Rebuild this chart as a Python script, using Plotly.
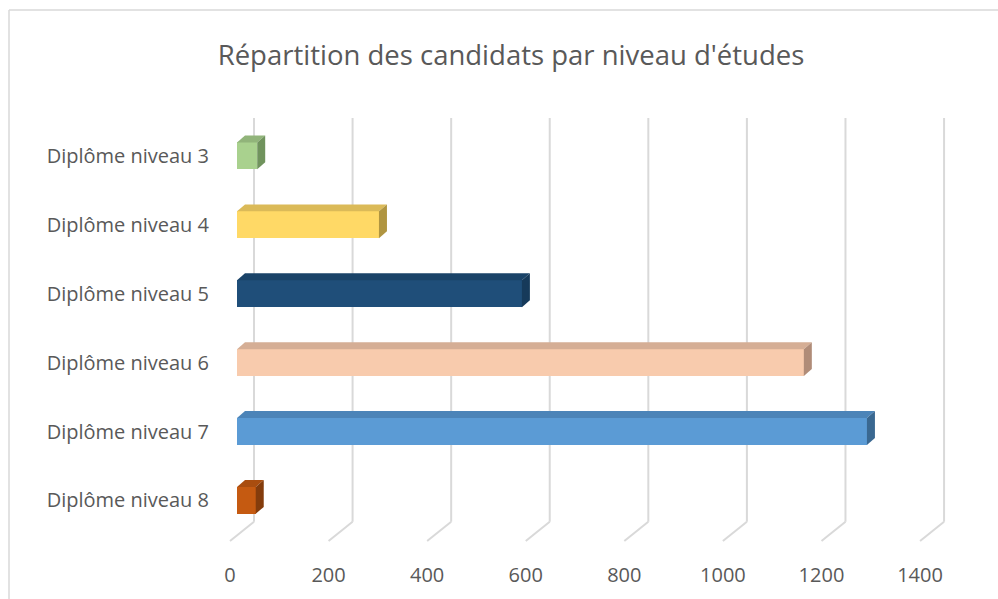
import plotly.graph_objects as go

categories = ["Diplôme niveau 8", "Diplôme niveau 7", "Diplôme niveau 6",
              "Diplôme niveau 5", "Diplôme niveau 4", "Diplôme niveau 3"]
values = [38, 1278, 1150, 578, 288, 41]
front_colors = ["#C55A11", "#5B9BD5", "#F8CBAD", "#1F4E79", "#FFD966", "#A9D18E"]
top_colors = ["#A94D0F", "#4C84B8", "#D5AE95", "#1A4368", "#DBBA58", "#91B47A"]
side_colors = ["#843C0C", "#3A6891", "#B08C78", "#163A5A", "#B09540", "#70935D"]
tick_vals = [0, 200, 400, 600, 800, 1000, 1200, 1400]

GRAY = "#595959"
FONT = "Open Sans"
W, H = 998, 599

# geometry of the pseudo-3D look (in axis units)
px_per_unit = 0.4929
x_left_px, x_right_px = 210, 960
xmin = -(237 - x_left_px) / px_per_unit
xmax = xmin + (x_right_px - x_left_px) / px_per_unit
front_shift = 7 / px_per_unit     # tick labels sit on the front edge
back_shift = 17 / px_per_unit     # gridlines sit on the back wall
depth_x = 8 / px_per_unit
depth_y = 7 / 69
bar_h = 0.39
floor_back = -0.31
floor_front = -0.59

fig = go.Figure()
fig.add_trace(go.Bar(
    y=list(range(len(categories))), x=values, orientation="h",
    width=bar_h, marker=dict(color=front_colors, line=dict(width=0)),
    hoverinfo="skip", showlegend=False))
# invisible trace to carry the front tick-label axis
fig.add_trace(go.Scatter(x=tick_vals, y=[0] * len(tick_vals), xaxis="x2",
                         mode="markers", marker=dict(opacity=0),
                         hoverinfo="skip", showlegend=False))

shapes = []
for t in tick_vals:
    xb = t + back_shift
    xf = t - front_shift
    shapes.append(dict(type="line", xref="x", yref="y", x0=xb, x1=xb,
                       y0=floor_back, y1=5.55, layer="below",
                       line=dict(color="#D9D9D9", width=2)))
    shapes.append(dict(type="line", xref="x", yref="y", x0=xb, x1=xf,
                       y0=floor_back, y1=floor_front, layer="below",
                       line=dict(color="#D9D9D9", width=2)))

for i, v in enumerate(values):
    yt = i + bar_h / 2
    yb = i - bar_h / 2
    top = f"M 0 {yt} L {v} {yt} L {v + depth_x} {yt + depth_y} L {depth_x} {yt + depth_y} Z"
    side = f"M {v} {yb} L {v} {yt} L {v + depth_x} {yt + depth_y} L {v + depth_x} {yb + depth_y} Z"
    shapes.append(dict(type="path", xref="x", yref="y", path=top,
                       fillcolor=top_colors[i], line=dict(width=0), layer="above"))
    shapes.append(dict(type="path", xref="x", yref="y", path=side,
                       fillcolor=side_colors[i], line=dict(width=0), layer="above"))

# chart border (left and top edges)
bx = (9 - 210) / 750
by = (559 - 10) / 441
shapes.append(dict(type="line", xref="paper", yref="paper",
                   x0=bx, x1=bx, y0=by, y1=(559 - 620) / 441,
                   line=dict(color="#D9D9D9", width=1.5)))
shapes.append(dict(type="line", xref="paper", yref="paper",
                   x0=bx, x1=(1020 - 210) / 750, y0=by, y1=by,
                   line=dict(color="#D9D9D9", width=1.5)))

fig.update_layout(
    width=W, height=H,
    margin=dict(l=210, r=W - 960, t=118, b=H - 559, autoexpand=False),
    paper_bgcolor="white", plot_bgcolor="white",
    title=dict(text="Répartition des candidats par niveau d'études",
               x=511 / W, xanchor="center", y=1 - 55 / H,
               yanchor="middle",
               font=dict(family=FONT, size=27.5, color=GRAY)),
    xaxis=dict(range=[xmin, xmax], showgrid=False, zeroline=False,
               showticklabels=False, showline=False, automargin=False),
    xaxis2=dict(range=[xmin + front_shift, xmax + front_shift], overlaying="x",
                side="bottom", anchor="y", showgrid=False, zeroline=False,
                showline=False, tickvals=tick_vals, ticks="",
                ticklabelstandoff=2, automargin=False,
                tickfont=dict(family=FONT, size=20, color=GRAY)),
    yaxis=dict(range=[-0.85, 5.55], tickvals=list(range(len(categories))),
               ticktext=categories, showgrid=False, zeroline=False,
               showline=False, ticks="", automargin=False,
               tickfont=dict(family=FONT, size=20, color=GRAY)),
    shapes=shapes,
    bargap=0,
)

fig.write_html("out.html",
               config={"displayModeBar": False},
               post_script="document.body.style.margin='0';"
                           "document.body.style.overflow='hidden';")
